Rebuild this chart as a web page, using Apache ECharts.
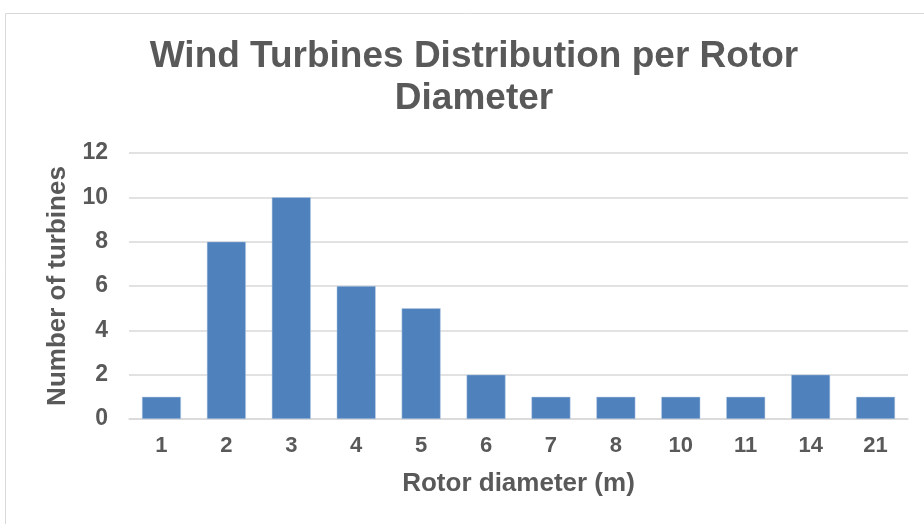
<!DOCTYPE html>
<html>
<head>
<meta charset="utf-8">
<script src="https://cdn.jsdelivr.net/npm/echarts@6/dist/echarts.min.js"></script>
<style>
  html, body { margin: 0; padding: 0; background: #fff; }
  #chart { width: 924px; height: 524px; }
</style>
</head>
<body>
<div id="chart"></div>
<script>
const diameters = ["1", "2", "3", "4", "5", "6", "7", "8", "10", "11", "14", "21"];
const turbines = [1, 8, 10, 6, 5, 2, 1, 1, 1, 1, 2, 1];

const textColor = "#595959";
const font = "'Liberation Sans', Arial, sans-serif";

const chart = echarts.init(document.getElementById("chart"), null, { renderer: "canvas" });

chart.setOption({
  backgroundColor: "#ffffff",
  animation: false,
  graphic: [
    {
      type: "rect",
      shape: { x: 5.5, y: 13.5, width: 960, height: 600 },
      style: { fill: "none", stroke: "#d9d9d9", lineWidth: 1 },
      silent: true,
    },
  ],
  title: {
    text: "Wind Turbines Distribution per Rotor\nDiameter",
    left: 474,
    textAlign: "center",
    top: 36,
    padding: 0,
    textStyle: {
      fontFamily: font,
      fontSize: 37,
      fontWeight: "bold",
      color: textColor,
      lineHeight: 42,
    },
  },
  grid: {
    left: 129,
    right: 16,
    top: 153,
    bottom: 105,
  },
  xAxis: {
    type: "category",
    data: diameters,
    name: "Rotor diameter (m)",
    nameLocation: "middle",
    nameGap: 52,
    nameTextStyle: { fontFamily: font, fontSize: 26, fontWeight: "bold", color: textColor },
    axisLine: { lineStyle: { color: "#d9d9d9", width: 1.5 } },
    axisTick: { show: false },
    axisLabel: { fontFamily: font, fontSize: 22, fontWeight: "bold", color: textColor, margin: 16 },
  },
  yAxis: {
    type: "value",
    min: 0,
    max: 12,
    interval: 2,
    name: "Number of turbines",
    nameLocation: "middle",
    nameGap: 58,
    nameTextStyle: { fontFamily: font, fontSize: 26, fontWeight: "bold", color: textColor },
    axisLine: { show: false },
    axisTick: { show: false },
    axisLabel: { fontFamily: font, fontSize: 23, fontWeight: "bold", color: textColor, margin: 21 },
    splitLine: { lineStyle: { color: "#d9d9d9", width: 1.5 } },
  },
  series: [
    {
      type: "bar",
      data: turbines,
      barCategoryGap: "40%",
      itemStyle: { color: "#4f81bd", borderColor: "#b9cde5", borderWidth: 0.5 },
    },
  ],
});
</script>
</body>
</html>
